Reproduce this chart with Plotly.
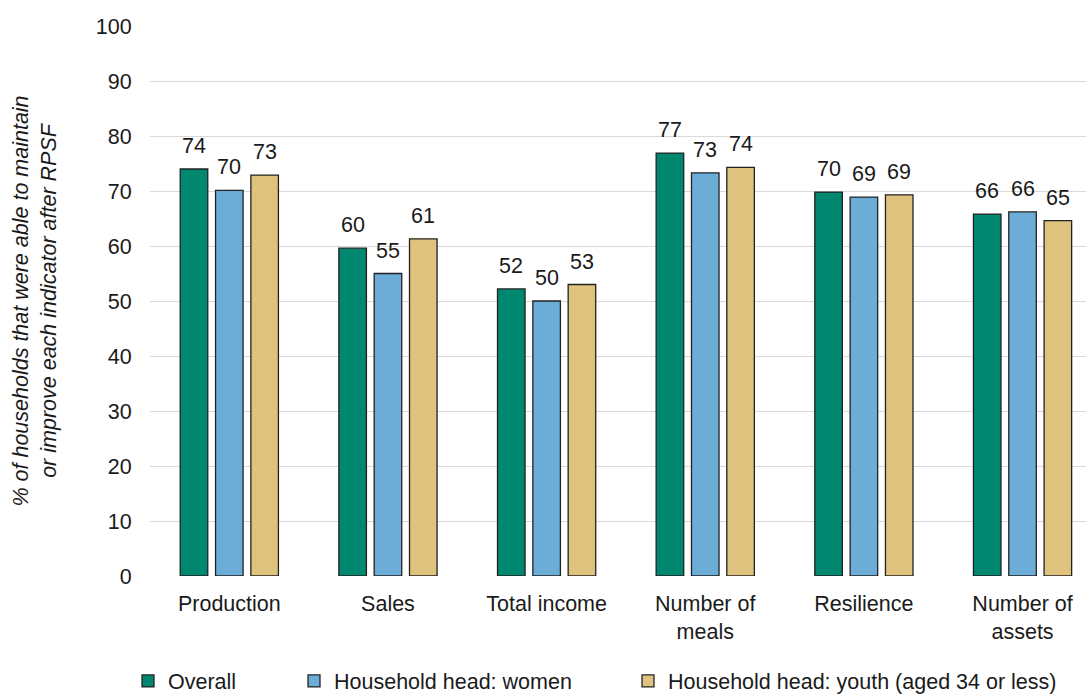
import plotly.graph_objects as go

categories = ["Production", "Sales", "Total income", "Number of<br>meals", "Resilience", "Number of<br>assets"]
series_names = ["Overall", "Household head: women", "Household head: youth (aged 34 or less)"]
overall = [74.0, 59.6, 52.2, 76.9, 69.8, 65.8]
women = [70.1, 55.0, 50.0, 73.3, 68.9, 66.2]
youth = [72.9, 61.3, 53.0, 74.3, 69.3, 64.6]
y_ticks = [0, 10, 20, 30, 40, 50, 60, 70, 80, 90, 100]

colors = ["#00876F", "#6BADD6", "#DFC27E"]
series = [overall, women, youth]
FONT = "Liberation Sans, Arial, sans-serif"
FS = 21.5
W, H = 1086, 695
BARGAP = 0.332
slot = (1 - BARGAP) / 3

fig = go.Figure()
legend_ids = ["legend", "legend2", "legend3"]
for k, (name, vals, col) in enumerate(zip(series_names, series, colors)):
    fig.add_trace(go.Bar(
        x=list(range(len(categories))), y=vals, name=name,
        marker=dict(color=col, line=dict(color="#222222", width=1.3)),
        legend=legend_ids[k],
    ))
    for i, v in enumerate(vals):
        fig.add_annotation(
            x=i + (k - 1) * slot, y=v, xref="x", yref="y",
            text=f"{v:.0f}", showarrow=False, yanchor="bottom",
            yshift=9, font=dict(family=FONT, size=FS, color="#1a1a1a"),
        )

text_starts = [168, 334, 668]
legend_cfg = {}
for k, lid in enumerate(legend_ids):
    legend_cfg[lid] = dict(
        orientation="h", xref="container", yref="container",
        x=(text_starts[k] - 40) / W, xanchor="left",
        y=1 - 681 / H, yanchor="middle",
        font=dict(family=FONT, size=FS, color="#1a1a1a"),
        bgcolor="rgba(0,0,0,0)", itemwidth=30,
    )

fig.update_layout(
    width=W, height=H,
    margin=dict(l=150, r=0, t=26, b=119, autoexpand=False),
    paper_bgcolor="white", plot_bgcolor="white",
    bargap=BARGAP, bargroupgap=0.22, barmode="group",
    font=dict(family=FONT, size=FS, color="#1a1a1a"),
    showlegend=True,
    **legend_cfg,
)
fig.update_xaxes(
    tickmode="array", tickvals=list(range(len(categories))), ticktext=categories,
    range=[-0.5, 5.4], showgrid=False, zeroline=False, showline=False,
    ticks="outside", ticklen=8, tickcolor="rgba(0,0,0,0)",
    tickfont=dict(family=FONT, size=FS, color="#1a1a1a"),
)
fig.update_yaxes(
    range=[0, 100], tickvals=y_ticks, showgrid=True, gridcolor="#D9D9D9", gridwidth=1.3,
    zeroline=False, showline=False,
    ticks="outside", ticklen=13, tickcolor="rgba(0,0,0,0)",
    tickfont=dict(family=FONT, size=FS, color="#1a1a1a"),
    title=dict(
        text="<i>% of households that were able to maintain<br>or improve each indicator after RPSF</i>",
        font=dict(family=FONT, size=FS, color="#1a1a1a"), standoff=33,
    ),
)
fig.write_html("out.html")
